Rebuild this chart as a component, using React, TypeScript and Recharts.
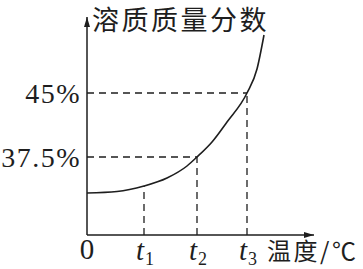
import React from "react";
import {
  LineChart,
  Line,
  XAxis,
  YAxis,
  ReferenceLine,
  ReferenceDot,
} from "recharts";

// values in figure units (the sketch is not drawn to scale)
const curveX = [0, 30, 57, 80, 100, 110, 125, 140, 160, 170, 177];
const curveY = [42, 43.5, 49, 57, 69, 78, 93, 113, 142, 166, 200];

const xTicks = [0, 57, 110, 160];
const xTickLabels = ["0", "t1", "t2", "t3"];
const yTicks = [78, 142];
const yTickLabels = ["37.5%", "45%"];

// dashed guides: x and y of the curve point they point to
const guideX = [57, 110, 160];
const guideY = [49, 78, 142];
const guideHasHorizontal = [false, true, true];

const xMax = 227;
const yMax = 218;

const title = "溶质质量分数";
const xTitle = "温度/℃";

const data = curveX.map((x, i) => ({ x, y: curveY[i] }));

const ink = "#1e1e1e";
const serifFont = "Liberation Serif";

const XTick = (props: any) => {
  const { x, y, index } = props;
  const label = xTickLabels[index];
  if (label === "0") {
    return (
      <text x={x} y={y + 24} textAnchor="middle" fontFamily={serifFont} fontSize={29} fill={ink}>
        {label}
      </text>
    );
  }
  return (
    <text x={x - 8} y={y + 25} fontFamily={serifFont} fontSize={29} fill={ink}>
      <tspan fontFamily={serifFont} fontStyle="italic">{label[0]}</tspan>
      <tspan fontFamily={serifFont} fontSize={18} dx={1} dy={5}>{label.slice(1)}</tspan>
    </text>
  );
};

const YTick = (props: any) => {
  const { x, y, index } = props;
  return (
    <text
      x={x - 6}
      y={y + 10}
      textAnchor="end"
      fontFamily={serifFont}
      fontSize={28}
      letterSpacing={1.5}
      fill={ink}
    >
      {yTickLabels[index]}
    </text>
  );
};

const ArrowUp = (props: any) => {
  const { cx, cy } = props;
  return <path d={`M${cx},${cy} L${cx - 3},${cy + 10} L${cx + 3},${cy + 10} Z`} fill={ink} />;
};

const ArrowRight = (props: any) => {
  const { cx, cy } = props;
  return <path d={`M${cx},${cy} L${cx - 10},${cy - 3} L${cx - 10},${cy + 3} Z`} fill={ink} />;
};

export default function App() {
  return (
    <div
      style={{
        position: "fixed",
        left: 0,
        top: 0,
        width: 363,
        height: 269,
        background: "#fff",
        fontFamily: serifFont,
      }}
    >
      <LineChart
        width={363}
        height={269}
        data={data}
        margin={{ top: 17, right: 49, bottom: 33, left: 86 }}
      >
        <XAxis
          type="number"
          dataKey="x"
          domain={[0, xMax]}
          ticks={xTicks}
          tick={<XTick />}
          tickLine={false}
          tickSize={0}
          tickMargin={0}
          height={1}
          allowDataOverflow
          axisLine={{ stroke: ink, strokeWidth: 1.5 }}
          label={(p: any) => {
            const vb = p.viewBox;
            return (
              <text
                x={vb.x + 180}
                y={vb.y + 25}
                fontFamily="Noto Sans CJK SC"
                fontSize={24}
                letterSpacing={2.5}
                fill={ink}
              >
                {xTitle}
              </text>
            );
          }}
        />
        <YAxis
          type="number"
          domain={[0, yMax]}
          ticks={yTicks}
          tick={<YTick />}
          tickLine={false}
          tickSize={0}
          tickMargin={0}
          width={1}
          allowDataOverflow
          axisLine={{ stroke: ink, strokeWidth: 1.5 }}
          label={(p: any) => {
            const vb = p.viewBox;
            return (
              <text
                x={vb.x + 6}
                y={30}
                fontFamily="Noto Sans CJK SC"
                fontSize={27}
                letterSpacing={2.5}
                fill={ink}
              >
                {title}
              </text>
            );
          }}
        />
        {guideX.map((gx, i) => (
          <ReferenceLine
            key={"v" + i}
            segment={[
              { x: gx, y: 0 },
              { x: gx, y: guideY[i] },
            ]}
            stroke={ink}
            strokeWidth={1.3}
            strokeDasharray="7 5"
            ifOverflow="visible"
          />
        ))}
        {guideX.map((gx, i) =>
          guideHasHorizontal[i] ? (
            <ReferenceLine
              key={"h" + i}
              segment={[
                { x: 0, y: guideY[i] },
                { x: gx, y: guideY[i] },
              ]}
              stroke={ink}
              strokeWidth={1.3}
              strokeDasharray="7 5"
              ifOverflow="visible"
            />
          ) : null
        )}
        <Line
          type="monotone"
          dataKey="y"
          stroke={ink}
          strokeWidth={1.6}
          dot={false}
          isAnimationActive={false}
        />
        <ReferenceDot x={0} y={yMax} r={0} shape={<ArrowUp />} ifOverflow="visible" />
        <ReferenceDot x={xMax} y={0} r={0} shape={<ArrowRight />} ifOverflow="visible" />
      </LineChart>
    </div>
  );
}
